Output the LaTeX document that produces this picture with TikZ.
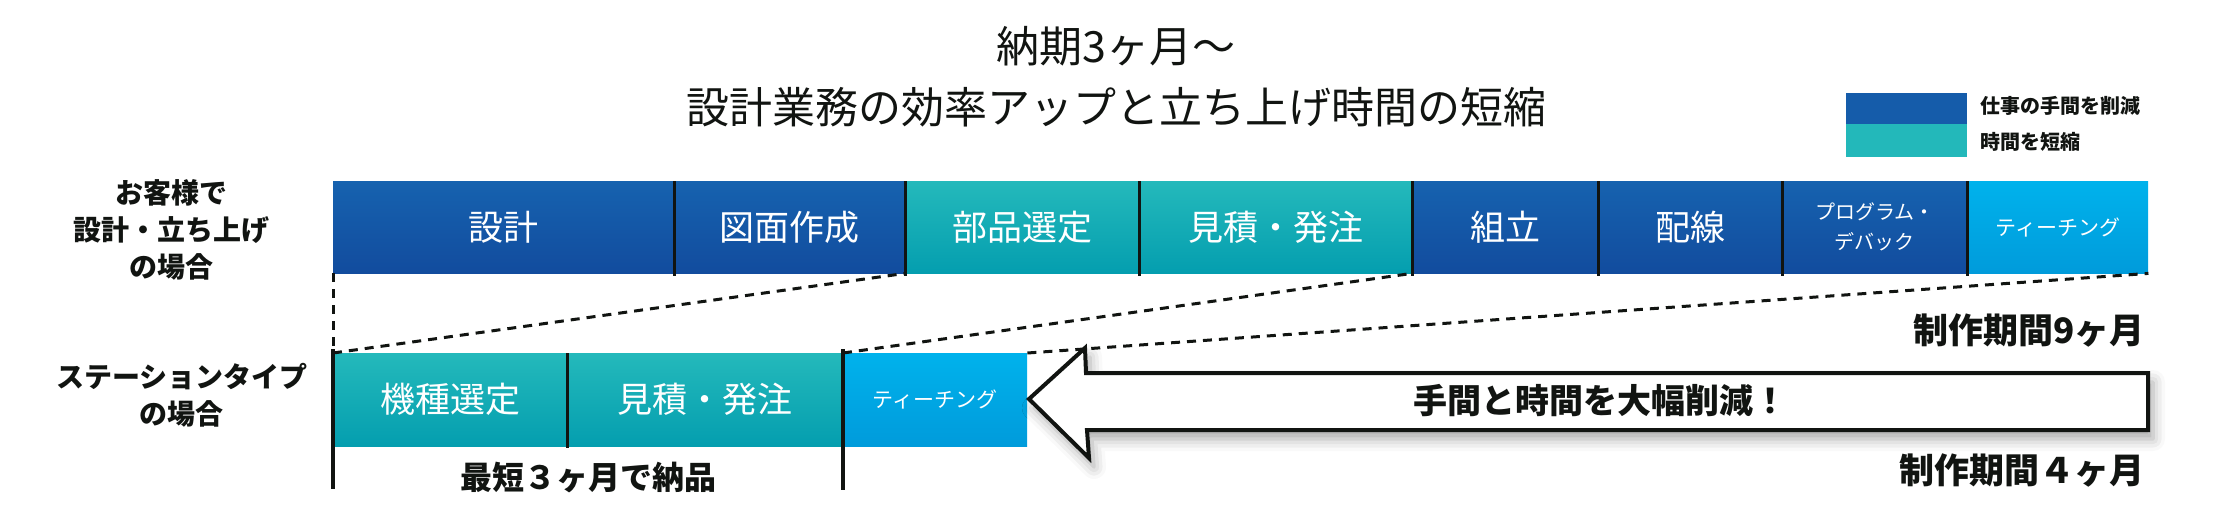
\documentclass[tikz,border=0pt]{standalone}
\usepackage{fontspec}
\setmainfont{Noto Sans CJK JP}
\usetikzlibrary{shadows.blur}
\definecolor{blueT}{HTML}{1662AF}
\definecolor{blueB}{HTML}{124C9E}
\definecolor{tealT}{HTML}{24B9BB}
\definecolor{tealB}{HTML}{049EAF}
\definecolor{skyT}{HTML}{00B2EC}
\definecolor{skyB}{HTML}{009BDB}
\definecolor{legB}{HTML}{155CAA}
\definecolor{legT}{HTML}{23B8BA}
\definecolor{ink}{HTML}{111411}
\newcommand\fsz[2]{\fontsize{#1pt}{#2pt}\selectfont}
\tikzset{
  cell/.style={rectangle, anchor=north west, inner sep=0pt, minimum height=92pt, text=white, font=\fsz{35}{42}},
  bluecell/.style={cell, top color=blueT, bottom color=blueB},
  tealcell/.style={cell, top color=tealT, bottom color=tealB},
  skycell/.style={cell, top color=skyT, bottom color=skyB},
  divider/.style={line width=3.5pt, draw=ink},
  dashline/.style={line width=3pt, draw=ink, dash pattern=on 9pt off 7pt},
  label/.style={inner sep=0pt, text=ink, font=\bfseries\fsz{28}{37}, align=center},
  arrowshape/.style={line width=4pt, draw=ink, fill=white, line join=miter,
    blur shadow={shadow xshift=5pt, shadow yshift=-9pt, shadow blur radius=12pt, shadow opacity=35}},
}
\begin{document}
\begin{tikzpicture}[x=1pt,y=-1pt]
\useasboundingbox (0,0) rectangle (2233,504);

% title
\node[inner sep=0pt, font=\fsz{43}{50}, text=ink] (t1) at (1116,46) {納期3ヶ月～};
\node[inner sep=0pt, font=\fsz{43}{50}, text=ink] (t2) at (1116,107) {設計業務の効率アップと立ち上げ時間の短縮};

% legend
\node[rectangle, fill=legB, minimum width=121pt, minimum height=31pt, anchor=north west, inner sep=0pt] (lg1) at (1846,93) {};
\node[rectangle, fill=legT, minimum width=121pt, minimum height=33pt, anchor=north west, inner sep=0pt] (lg2) at (1846,124) {};
\node[anchor=west, inner sep=0pt, text=ink, font=\bfseries\fsz{20}{24}] (lt1) at (1980,106) {仕事の手間を削減};
\node[anchor=west, inner sep=0pt, text=ink, font=\bfseries\fsz{20}{24}] (lt2) at (1980,142) {時間を短縮};

% row labels
\node[label] (lab1) at (171,230) {お客様で\\設計・立ち上げ\\の場合};
\node[label] (lab2) at (182,395) {ステーションタイプ\\の場合};

% top row
\node[bluecell, minimum width=341pt] (c1) at (333,181) {設計};
\node[bluecell, minimum width=231pt] (c2) at (674,181) {図面作成};
\node[tealcell, minimum width=234pt] (c3) at (905,181) {部品選定};
\node[tealcell, minimum width=273pt] (c4) at (1139,181) {見積・発注};
\node[bluecell, minimum width=186pt] (c5) at (1412,181) {組立};
\node[bluecell, minimum width=184pt] (c6) at (1598,181) {配線};
\node[bluecell, minimum width=185pt, align=center, font=\fsz{20}{30}] (c7) at (1782,181) {プログラム・\\デバック};
\node[skycell, minimum width=181pt, font=\fsz{21}{25}] (c8) at (1967,181) {ティーチング};

% bottom row
\node[tealcell, minimum width=234pt, minimum height=93pt] (d1) at (333,353) {機種選定};
\node[tealcell, minimum width=276pt, minimum height=93pt] (d2) at (567,353) {見積・発注};
\node[skycell, minimum width=184pt, minimum height=93pt, font=\fsz{21}{25}] (d3) at (843,353) {ティーチング};

% dividers top row
\foreach \n in {c1,c2,c3,c4,c5,c6,c7}
  \draw[divider] (\n.north east) -- ([yshift=-3pt]\n.south east);
% dividers bottom row
\draw[divider] (d1.north east) -- ([yshift=-2pt]d1.south east);
\coordinate (e1) at (333,489);
\coordinate (e2) at (843,490);
\draw[divider] ([yshift=4pt]d1.north west) -- (e1);
\draw[divider] ([yshift=4pt]d3.north west) -- (e2);

% dashed projection lines
\draw[dashline] (c1.south west) -- (d1.north west);
\draw[dashline] (d1.north west) -- (c3.south west);
\draw[dashline] (d3.north west) -- (c5.south west);
\draw[dashline] (d3.north east) -- (c8.south east);

% big arrow
\coordinate (tip) at (1029,399);
\coordinate (ht) at (1085,348);
\coordinate (st) at (1086,373);
\coordinate (se) at (2148,373);
\coordinate (sb) at (2148,430);
\coordinate (sbl) at (1087,430);
\coordinate (hb) at (1089,458);
\draw[arrowshape] (tip) -- (ht) -- (st) -- (se) -- (sb) -- (sbl) -- (hb) -- cycle;
\node[inner sep=0pt, text=ink, font=\bfseries\fsz{34}{40}] (atext) at (1600,401) {手間と時間を大幅削減！};

% period labels
\node[anchor=east, inner sep=0pt, text=ink, font=\bfseries\fsz{35}{40}] (p9) at (2145,330) {制作期間9ヶ月};
\node[anchor=east, inner sep=0pt, text=ink, font=\bfseries\fsz{35}{40}] (p4) at (2145,470) {制作期間４ヶ月};
\node[inner sep=0pt, text=ink, font=\bfseries\fsz{32}{38}] (p3) at (588,478) {最短３ヶ月で納品};
\end{tikzpicture}
\end{document}
